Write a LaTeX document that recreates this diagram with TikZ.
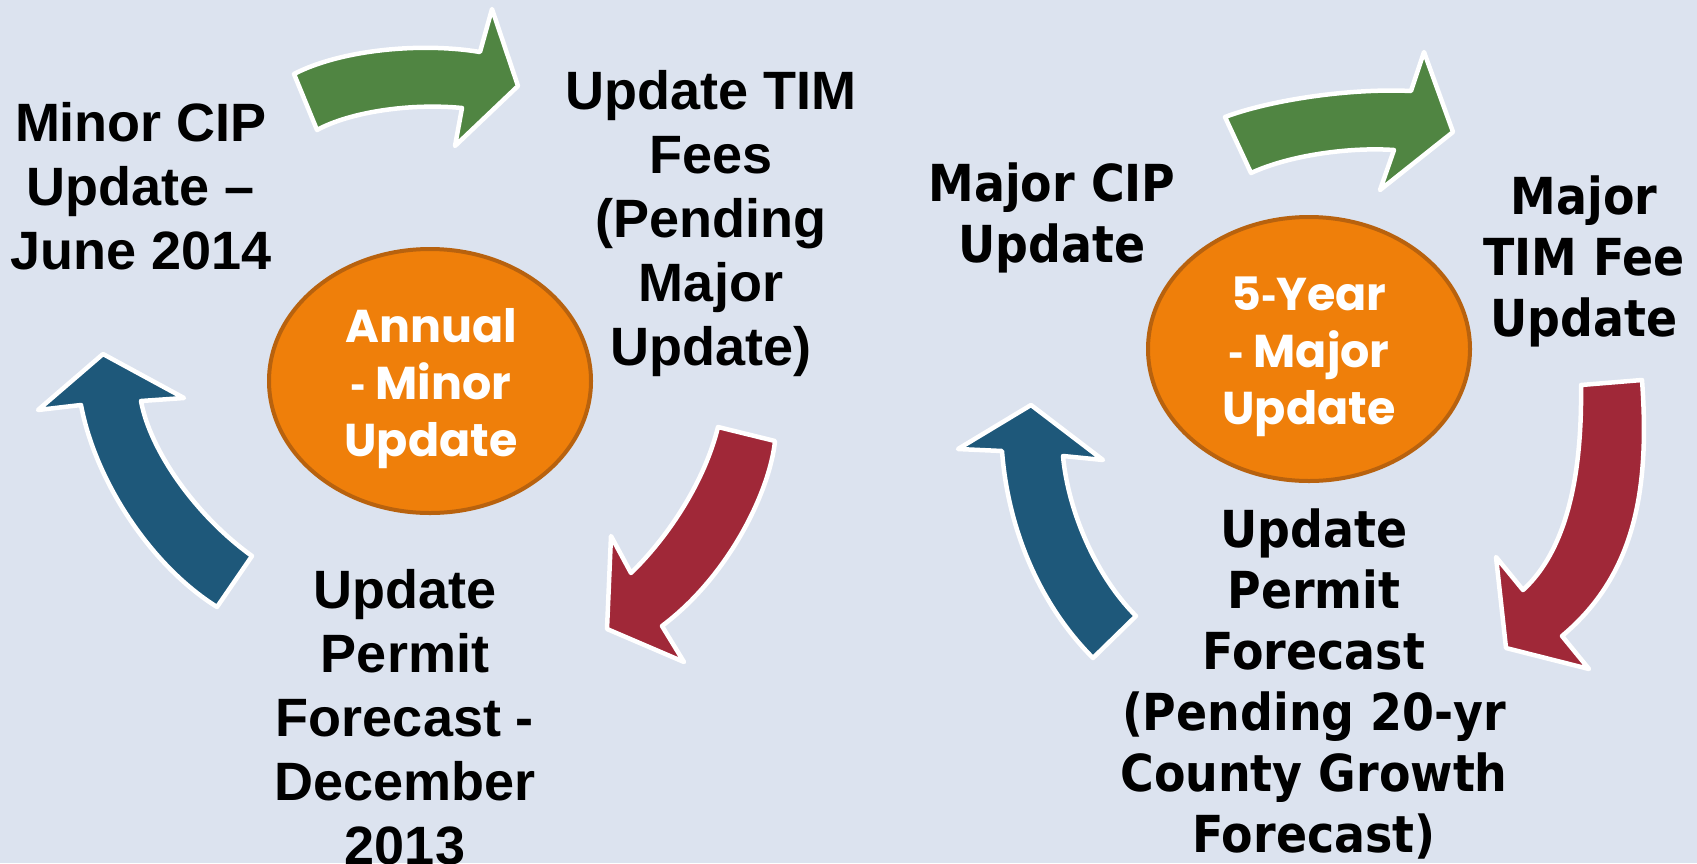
\documentclass[tikz,border=0pt]{standalone}
\usepackage{fontspec}
\usetikzlibrary{shapes.geometric}
\newfontfamily\leftfont{Liberation Sans}
\newfontfamily\rightfont{DejaVu Sans}[FakeStretch=0.9]
\newfontfamily\gothfont{Poppins}
\definecolor{bgcol}{RGB}{220,227,239}
\definecolor{grncol}{RGB}{80,133,66}
\definecolor{redcol}{RGB}{160,40,56}
\definecolor{blucol}{RGB}{30,88,122}
\definecolor{orfill}{RGB}{239,127,10}
\definecolor{oredge}{RGB}{184,98,14}
\newcommand{\shorthy}{{\leftfont\bfseries -}}
\begin{document}
\begin{tikzpicture}[x=1pt,y=-1pt,
  arr/.style={draw=white, line width=4.5pt, line join=round},
  ell/.style={ellipse, draw=oredge, fill=orfill, line width=4pt, minimum width=322pt, minimum height=264pt, inner sep=0pt},
  ltext/.style={font=\leftfont\bfseries\fontsize{54}{64}\selectfont, align=center, inner sep=0pt, anchor=north, text=black},
  rtext/.style={font=\rightfont\bfseries\fontsize{51}{61}\selectfont, align=center, inner sep=0pt, anchor=north, text=black},
  wtext/.style={font=\gothfont\bfseries\fontsize{46}{57}\selectfont, align=center, inner sep=0pt, anchor=north, text=white}]
\fill[bgcol] (0,0) rectangle (1697,863);
\useasboundingbox (0,0) rectangle (1697,863);

% ---------- left cycle ----------
\node[ell] (annual) at (430,381) {};
\node[wtext] (annualtxt) at (431,308) {Annual\\\shorthy{} Minor\\Update};

\draw[arr, fill=grncol] (294,74) .. controls (340,50) and (420,42) .. (480,52)
  -- (492,9) -- (518,86) -- (455,146) -- (462,108)
  .. controls (410,103) and (350,112) .. (317,130) -- cycle;
\draw[arr, fill=redcol] (775,441) .. controls (770,490) and (730,575) .. (662,626)
  -- (684,662) -- (607,629) -- (611,536) -- (631,573)
  .. controls (670,535) and (705,480) .. (718,427) -- cycle;
\draw[arr, fill=blucol] (103,354) -- (184,398) -- (141,401)
  .. controls (150,450) and (195,515) .. (252,556) -- (217,607)
  .. controls (150,565) and (95,480) .. (81,405) -- (38,410) -- cycle;

\node[ltext] (minorcip) at (141,102) {Minor CIP\\Update –\\June 2014};
\node[ltext] (updtim) at (711,70) {Update TIM\\Fees\\(Pending\\Major\\Update)};
\node[ltext] (updpermit) at (405,569) {Update\\Permit\\Forecast -\\December\\2013};

% ---------- right cycle ----------
\node[ell] (fiveyear) at (1309,349) {};
\node[wtext] (fiveyeartxt) at (1309,277) {5\shorthy Year\\\shorthy{} Major\\Update};

\draw[arr, fill=grncol] (1225,117) .. controls (1270,100) and (1350,88) .. (1411,91)
  -- (1424,52) -- (1453,132) -- (1380,190) -- (1394,150)
  .. controls (1350,147) and (1290,155) .. (1251,173) -- cycle;
\draw[arr, fill=redcol] (1642,380) .. controls (1650,490) and (1635,575) .. (1562,636)
  -- (1589,669) -- (1506,648) -- (1496,557) -- (1523,590)
  .. controls (1572,545) and (1582,460) .. (1581,385) -- cycle;
\draw[arr, fill=blucol] (1031,405) -- (1103,460) -- (1063,456)
  .. controls (1068,510) and (1095,575) .. (1136,616) -- (1093,658)
  .. controls (1040,605) and (1008,530) .. (1002,451) -- (958,449) -- cycle;

\node[rtext] (majorcip) at (1052,163) {Major CIP\\Update};
\node[rtext] (majortim) at (1584,176) {Major\\TIM Fee\\Update};
\node[rtext] (updpermit2) at (1314,509) {Update\\Permit\\Forecast\\(Pending 20-yr\\County Growth\\Forecast)};
\end{tikzpicture}
\end{document}
